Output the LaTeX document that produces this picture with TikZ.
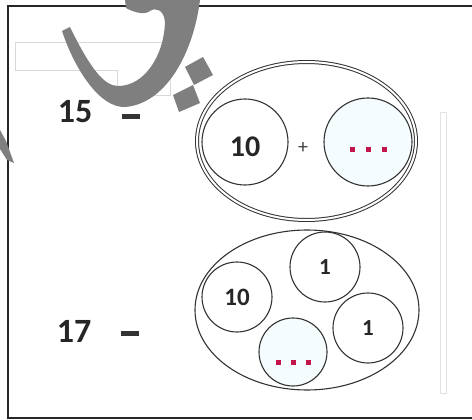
\documentclass[tikz,border=0pt]{standalone}
\usepackage{fontspec}
\setmainfont{Carlito}
\usetikzlibrary{shapes.geometric}
\definecolor{inkgray}{HTML}{333333}
\definecolor{dotred}{HTML}{C4144C}
\definecolor{markgray}{HTML}{7F7F7F}
\tikzset{
  part/.style={circle, draw=inkgray, line width=1.1pt, inner sep=0pt, minimum size=#1},
  whole/.style={ellipse, draw=inkgray, line width=1.1pt, inner sep=0pt},
  num/.style={font=\fontsize{#1}{#1}\selectfont\bfseries, text=black!85, inner sep=0pt},
  minusbar/.style={fill=black!80, minimum width=18pt, minimum height=5pt, inner sep=0pt},
  dotmark/.style={fill=dotred, minimum size=5pt, inner sep=0pt}
}

\begin{document}
\begin{tikzpicture}[x=1pt,y=-1pt]
\useasboundingbox (0,0) rectangle (472,420);
\fill[white] (0,0) rectangle (472,420);

% frame
\draw[line width=2pt, black!85] (472,6) -- (8,6) -- (8,418) -- (472,418);

% faint boxes and bar
\draw[gray!30, line width=0.7pt] (15,42) -- (170,42) -- (170,95) -- (117,95) -- (117,70) -- (15,70) -- cycle;
\draw[gray!22, line width=0.7pt] (440,112) rectangle (446,393);

% 15 = 10 + ...
\node[num=34] (N15) at (75,112) {15};
\node[minusbar] (M15) at (131,117) {};
\node[whole, line width=1pt, double=white, double distance=2pt, minimum width=219pt, minimum height=158pt] (TopSet) at (306.5,141) {};
\node[part=86pt] (TopTen) at (245,142) {};
\node[num=30] at ([yshift=-5pt]TopTen.center) {10};
\node[font=\fontsize{20}{20}\selectfont, text=black!75, inner sep=0pt] (Plus) at (303,148) {+};
\node[part=88pt, fill=cyan!4] (TopMiss) at (368,142) {};
\foreach \dx in {-16,0,16}
  \node[dotmark] at ([xshift=\dx pt, yshift=-8pt]TopMiss.center) {};

% 17 = 10 + 1 + 1 + ...
\node[num=34] (N17) at (74,331) {17};
\node[minusbar] (M17) at (130,333) {};
\node[whole, minimum width=224pt, minimum height=160pt] (LowSet) at (307,310) {};
\node[part=70pt] (LowTen) at (237,297) {};
\node[num=25] at (LowTen) {10};
\node[part=70pt] (LowOneA) at (325,267) {};
\node[num=23] at (LowOneA) {1};
\node[part=70pt] (LowOneB) at (368,328) {};
\node[num=23] at (LowOneB) {1};
\node[part=68pt, fill=cyan!4] (LowMiss) at (293,352) {};
\foreach \dx in {-15,0,15}
  \node[dotmark] at ([xshift=\dx pt, yshift=-10pt]LowMiss.center) {};

% watermark
\fill[markgray] (62,31) .. controls (75,70) and (100,108) .. (125,107)
  .. controls (165,104) and (193,55) .. (200,0) -- (125,0) -- (126,8)
  .. controls (135,13) and (145,15) .. (150,11)
  .. controls (156,7) and (164,10) .. (165,22)
  .. controls (164,55) and (145,86) .. (118,86)
  .. controls (104,86) and (90,68) .. (70,27) -- cycle;
\fill[markgray] (185,67) -- (203,57) -- (213,75) -- (194,85) -- cycle;
\fill[markgray] (173,95) -- (193,85) -- (200,103) -- (179,112) -- cycle;
\fill[markgray] (0,130) -- (6,141) -- (14,163) -- (7,160) -- (0,149) -- cycle;
\end{tikzpicture}
\end{document}
